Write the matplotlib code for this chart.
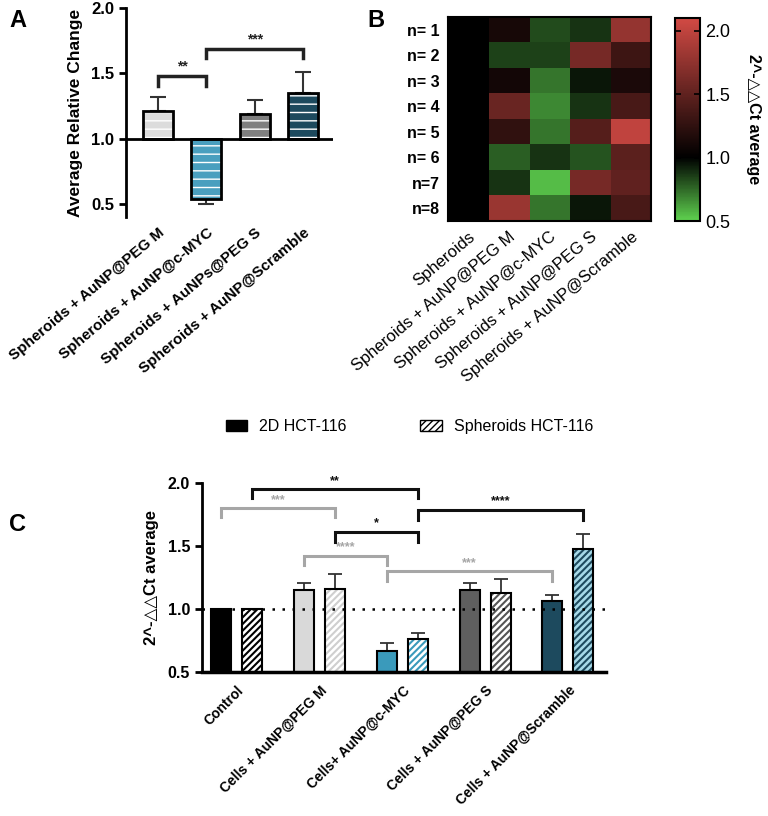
import numpy as np
import matplotlib
matplotlib.use('Agg')
import matplotlib.pyplot as plt
from matplotlib.colors import LinearSegmentedColormap
from matplotlib.patches import Patch

plt.rcParams['font.family'] = ['Liberation Sans', 'DejaVu Sans']

# ---- panel A data
a_labels = ['Spheroids + AuNP@PEG M', 'Spheroids + AuNP@c-MYC',
            'Spheroids + AuNPs@PEG S', 'Spheroids + AuNP@Scramble']
a_mean = [1.21, 0.54, 1.19, 1.35]
a_err = [0.11, 0.04, 0.11, 0.16]
a_colors = ['#dcdcdc', '#4a9fbf', '#7f7f7f', '#1d4a5e']

# ---- panel B data (rows n=1..8, cols = treatments)
b_cols = ['Spheroids', 'Spheroids + AuNP@PEG M', 'Spheroids + AuNP@c-MYC',
          'Spheroids + AuNP@PEG S', 'Spheroids + AuNP@Scramble']
b_rows = ['n= 1', 'n= 2', 'n= 3', 'n= 4', 'n= 5', 'n= 6', 'n=7', 'n=8']
b_vals = np.array([
    [1.0, 1.12, 0.82, 0.88, 1.78],
    [1.0, 0.85, 0.85, 1.62, 1.32],
    [1.0, 1.10, 0.72, 0.95, 1.15],
    [1.0, 1.55, 0.68, 0.88, 1.38],
    [1.0, 1.25, 0.72, 1.45, 2.00],
    [1.0, 0.78, 0.88, 0.80, 1.48],
    [1.0, 0.88, 0.55, 1.62, 1.50],
    [1.0, 1.80, 0.72, 0.95, 1.38],
])

# ---- panel C data
c_groups = ['Control', 'Cells + AuNP@PEG M', 'Cells+ AuNP@c-MYC',
            'Cells + AuNP@PEG S', 'Cells + AuNP@Scramble']
c_2d = [1.0, 1.15, 0.67, 1.15, 1.06]
c_2d_err = [0.0, 0.06, 0.06, 0.06, 0.05]
c_sph = [1.0, 1.16, 0.76, 1.127, 1.476]
c_sph_err = [0.0, 0.12, 0.05, 0.11, 0.12]
c_colors = ['#000000', '#d9d9d9', '#3a9abb', '#5f5f5f', '#1d4a5e']
c_hatch_face = ['#ffffff', '#ffffff', '#ffffff', '#ffffff', '#a6d9e8']
c_hatch_col = ['#000000', '#cfcfcf', '#3a9abb', '#555555', '#1d4a5e']

fig = plt.figure(figsize=(7.68, 8.16), dpi=100)

# ================= A
ax = fig.add_axes([0.164, 0.734, 0.27, 0.256])
xa = np.arange(len(a_mean))
h = np.array(a_mean) - 1.0
with plt.rc_context({'hatch.linewidth': 1.0}):
    ax.bar(xa, h, bottom=1.0, width=0.62, color=a_colors, edgecolor='white',
           hatch='--', linewidth=0, zorder=2)
ax.bar(xa, h, bottom=1.0, width=0.62, fill=False, edgecolor='black',
       linewidth=2, zorder=3)
for i in range(len(a_mean)):
    up = a_mean[i] >= 1.0
    yerr = [[0], [a_err[i]]] if up else [[a_err[i]], [0]]
    ax.errorbar(xa[i], a_mean[i], yerr=yerr, fmt='none', ecolor='#333333',
                elinewidth=1.5, capsize=6, capthick=1.5, zorder=1)
ax.axhline(1.0, color='black', lw=2, zorder=4)
ax.set_xlim(-0.66, 3.62)
ax.set_ylim(0.4, 2.0)
ax.set_yticks([0.5, 1.0, 1.5, 2.0])
ax.set_yticklabels(['0.5', '1.0', '1.5', '2.0'], fontweight='bold', fontsize=12)
for s in ['top', 'right', 'bottom']:
    ax.spines[s].set_visible(False)
ax.spines['left'].set_linewidth(2)
ax.tick_params(axis='y', width=2, length=5)
ax.tick_params(axis='x', length=0, pad=6)
ax.set_xticks(xa)
ax.set_xticklabels(a_labels, rotation=40, ha='right', rotation_mode='anchor',
                   fontweight='bold', fontsize=11)
ax.set_ylabel('Average Relative Change', fontweight='bold', fontsize=12.5,
              labelpad=6)


def bracket(ax, x1, x2, y, drop1, drop2, text, color, lw=2, fs=8):
    ax.plot([x1, x1, x2, x2], [y - drop1, y, y, y - drop2], color=color,
            lw=lw, solid_joinstyle='miter', zorder=5, clip_on=False)
    ax.text((x1 + x2) / 2, y + 0.02, text, ha='center', va='bottom',
            color=color, fontsize=fs, fontweight='bold')


bracket(ax, 0, 1, 1.477, 0.07, 0.07, '**', '#222222', lw=2.5, fs=10)
bracket(ax, 1, 3, 1.69, 0.07, 0.07, '***', '#222222', lw=2.5, fs=10)

# ================= B
cmap = LinearSegmentedColormap.from_list(
    'gkr', [(0.0, '#5fd24f'), (0.3125, '#000000'), (1.0, '#d24a44')])
axb = fig.add_axes([0.583, 0.729, 0.265, 0.25])
im = axb.imshow(b_vals, cmap=cmap, vmin=0.5, vmax=2.1, aspect='auto',
                interpolation='nearest')
axb.set_yticks(np.arange(len(b_rows)))
axb.set_yticklabels(b_rows, fontweight='bold', fontsize=11.5)
axb.set_xticks(np.arange(len(b_cols)))
axb.set_xticklabels(b_cols, rotation=40, ha='right', rotation_mode='anchor',
                    fontsize=12)
axb.tick_params(length=0, pad=6)
for s in axb.spines.values():
    s.set_linewidth(1.5)

cax = fig.add_axes([0.879, 0.729, 0.033, 0.249])
cb = fig.colorbar(im, cax=cax)
cb.set_ticks([0.5, 1.0, 1.5, 2.0])
cb.ax.set_yticklabels(['0.5', '1.0', '1.5', '2.0'], fontsize=13)
cb.ax.tick_params(direction='in', left=True, right=True, length=4, width=1.2)
cb.outline.set_linewidth(1.5)
cb.set_label('2^-△△Ct average', rotation=270, labelpad=22,
             fontweight='bold', fontsize=11.5)

# ================= C
axc = fig.add_axes([0.263, 0.1765, 0.526, 0.2315])
xc = np.arange(len(c_groups))
off = 0.187
bw = 0.24
axc.bar(xc - off, c_2d, width=bw, color=c_colors, edgecolor='black',
        linewidth=1.5, zorder=2)
with plt.rc_context({'hatch.linewidth': 1.5}):
    axc.bar(xc + off, c_sph, width=bw, color=c_hatch_face, edgecolor=c_hatch_col,
            hatch='/////', linewidth=0, zorder=2)
axc.bar(xc + off, c_sph, width=bw, fill=False, edgecolor='black',
        linewidth=1.5, zorder=3)
for i in range(len(c_groups)):
    if c_2d_err[i] > 0:
        axc.errorbar(xc[i] - off, c_2d[i], yerr=[[0], [c_2d_err[i]]], fmt='none',
                     ecolor='#333333', elinewidth=1.3, capsize=5, capthick=1.3,
                     zorder=1)
    if c_sph_err[i] > 0:
        axc.errorbar(xc[i] + off, c_sph[i], yerr=[[0], [c_sph_err[i]]], fmt='none',
                     ecolor='#333333', elinewidth=1.3, capsize=5, capthick=1.3,
                     zorder=1)
axc.axhline(1.0, color='black', lw=1.8, ls=(0, (1, 3)), zorder=4)
axc.set_xlim(-0.42, 4.46)
axc.set_ylim(0.5, 2.0)
axc.set_yticks([0.5, 1.0, 1.5, 2.0])
axc.set_yticklabels(['0.5', '1.0', '1.5', '2.0'], fontweight='bold', fontsize=11.5)
for s in ['top', 'right']:
    axc.spines[s].set_visible(False)
axc.spines['left'].set_linewidth(2)
axc.spines['bottom'].set_linewidth(2.5)
axc.tick_params(axis='y', width=2, length=5)
axc.tick_params(axis='x', length=0, pad=8)
axc.set_xticks(xc)
axc.set_xticklabels(c_groups, rotation=45, ha='right', rotation_mode='anchor',
                    fontweight='bold', fontsize=10)
axc.set_ylabel('2^-△△Ct average', fontweight='bold', fontsize=12, labelpad=6)

grey = '#a6a6a6'
blk = '#111111'
bracket(axc, 0 + off, 2 + off, 1.95, 0.07, 0.07, '**', blk, lw=2.2, fs=9)
bracket(axc, 0 - off, 1 + off, 1.80, 0.07, 0.07, '***', grey, lw=2.2, fs=9)
bracket(axc, 2 + off, 4 + off, 1.79, 0.08, 0.08, '****', blk, lw=2.2, fs=9)
bracket(axc, 1 + off, 2 + off, 1.61, 0.08, 0.08, '*', blk, lw=2.2, fs=9)
bracket(axc, 1 - off, 2 - off, 1.42, 0.07, 0.07, '****', grey, lw=2.2, fs=9)
bracket(axc, 2 - off, 4 - off, 1.30, 0.08, 0.08, '***', grey, lw=2.2, fs=9)

handles = [Patch(facecolor='black', edgecolor='black', label='2D HCT-116'),
           Patch(facecolor='white', edgecolor='black', hatch='/////',
                 label='Spheroids HCT-116')]
fig.legend(handles=handles, loc='center', bbox_to_anchor=(0.533, 0.477),
           ncol=2, frameon=False, fontsize=11.5, handlelength=1.35,
           handleheight=0.7, handletextpad=0.75, columnspacing=4.6)

fig.text(0.012, 0.975, 'A', fontsize=17, fontweight='bold', va='center')
fig.text(0.478, 0.975, 'B', fontsize=17, fontweight='bold', va='center')
fig.text(0.012, 0.357, 'C', fontsize=17, fontweight='bold', va='center')

fig.savefig('out.png', dpi=100)
